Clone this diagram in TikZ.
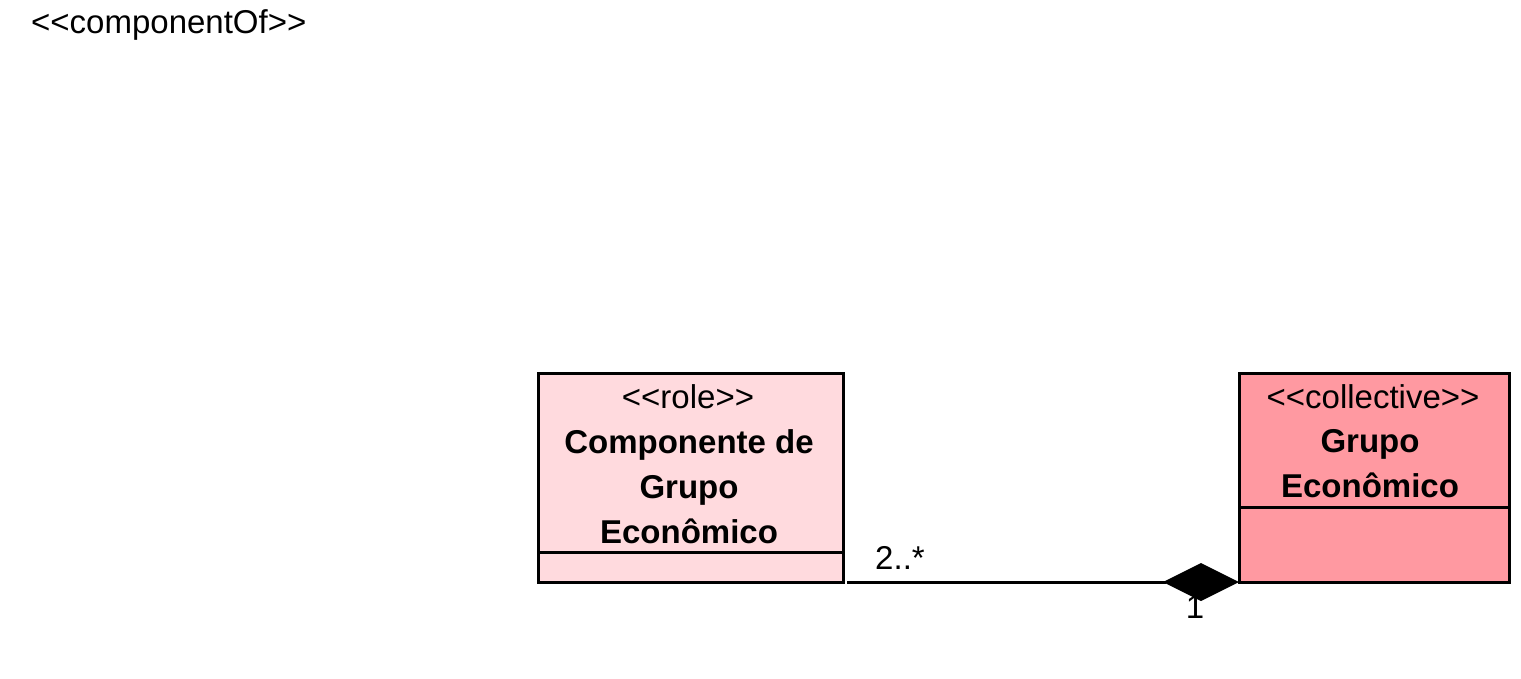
\documentclass[tikz,border=0pt]{standalone}
\usepackage{fontspec}
\setmainfont[Ligatures=TeXOff]{Liberation Sans}
\usetikzlibrary{arrows.meta}
\definecolor{rolefill}{RGB}{255,218,222}
\definecolor{collfill}{RGB}{255,153,161}
\begin{document}
\begin{tikzpicture}[x=1pt,y=-1pt,
  classbox/.style={draw=black, line width=3pt, inner sep=0pt, outer sep=0pt, anchor=north west},
  stereo/.style={font=\fontsize{33}{38}\selectfont, inner sep=0pt},
  cname/.style={font=\fontsize{33}{45}\selectfont\bfseries, align=center, inner sep=0pt},
  mult/.style={font=\fontsize{33}{38}\selectfont, inner sep=0pt},
  assoc/.style={line width=3pt}
]
\useasboundingbox (0,0) rectangle (1521,678);
\node[stereo, anchor=west] (cof) at (31,25) {<<componentOf>>};

\node[classbox, fill=rolefill, minimum width=305pt, minimum height=209pt] (comp) at (538,373) {};
\draw[line width=3pt] ([yshift=30pt]comp.south west) -- ([yshift=30pt]comp.south east);
\node[stereo] (compst) at (688,397) {<<role>>};
\node[cname] (compnm) at (689,487) {Componente de\\Grupo\\Econômico};

\node[classbox, fill=collfill, minimum width=270pt, minimum height=209pt] (grp) at (1239,373) {};
\draw[line width=3pt] ([yshift=75pt]grp.south west) -- ([yshift=75pt]grp.south east);
\node[stereo] (grpst) at (1373,397) {<<collective>>};
\node[cname] (grpnm) at (1370,464) {Grupo\\Econômico};

\node[mult] (m1) at (900,558) {2..*};
\node[mult] (m2) at (1195,607) {1};
\draw[assoc, -{Diamond[length=76pt,width=38pt]}, shorten <=4pt] (comp.south east) -- (grp.south west);
\end{tikzpicture}
\end{document}
